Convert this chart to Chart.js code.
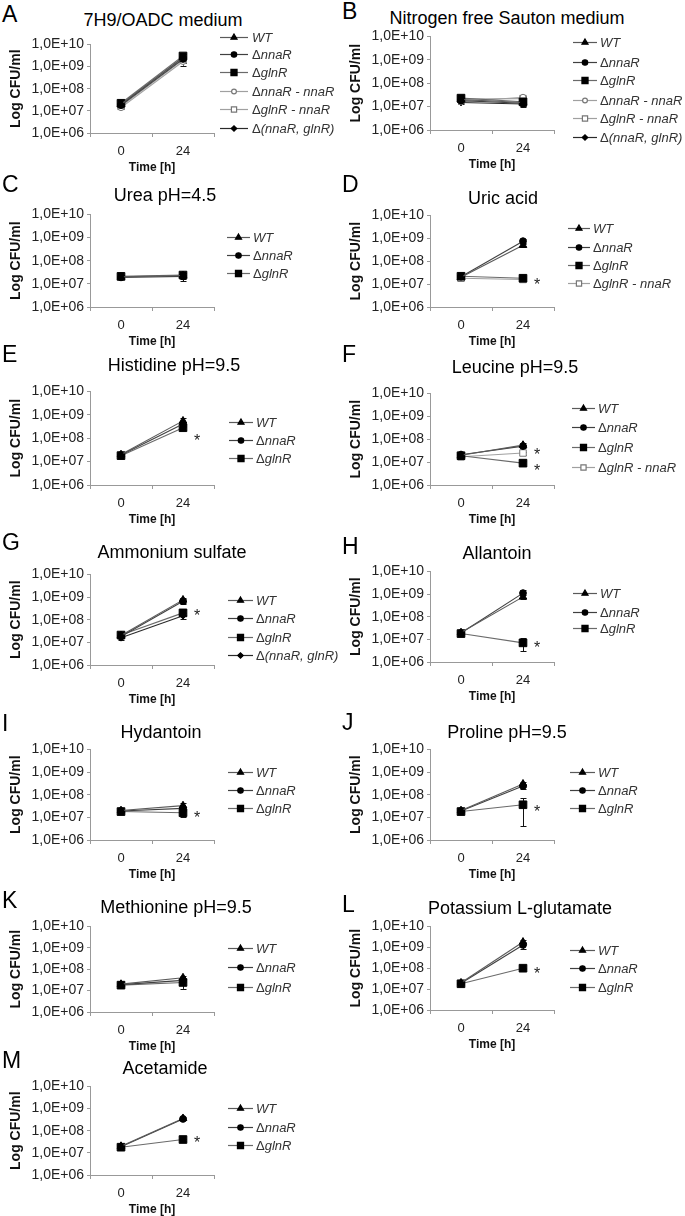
<!DOCTYPE html>
<html>
<head>
<meta charset="utf-8">
<script src="https://cdn.jsdelivr.net/npm/chart.js@4.4.0/dist/chart.umd.min.js"></script>
<style>
  html, body { margin: 0; padding: 0; background: #fff; }
  body { width: 685px; height: 1216px; position: relative; overflow: hidden; font-family: "Liberation Sans", Arial, sans-serif; }
  canvas { position: absolute; }
  .letter { position: absolute; font-size: 23px; color: #000; line-height: 1; transform: translateY(-50%); }
  .ptitle { position: absolute; font-size: 18px; color: #000; white-space: nowrap; line-height: 1; transform: translate(-50%, -50%); }
</style>
</head>
<body>
<script>
// ---------- DATA ----------
const timeLabels = ['0', '24'];
const yTickValues = [1e6, 1e7, 1e8, 1e9, 1e10];
const seriesNames = ['WT', 'ΔnnaR', 'ΔglnR', 'ΔnnaR - nnaR', 'ΔglnR - nnaR', 'Δ(nnaR, glnR)'];
const panelLetters = ['A','B','C','D','E','F','G','H','I','J','K','L','M'];
const panelTitles = ['7H9/OADC medium','Nitrogen free Sauton medium','Urea pH=4.5','Uric acid','Histidine pH=9.5','Leucine pH=9.5','Ammonium sulfate','Allantoin','Hydantoin','Proline pH=9.5','Methionine pH=9.5','Potassium L-glutamate','Acetamide'];

const aSeries = [0,1,2,3,4,5];
const aValues = [[2.0e7,2.5e9],[1.8e7,2.2e9],[2.2e7,3.0e9],[1.4e7,1.7e9],[1.6e7,2.0e9],[1.9e7,2.6e9]];
const aErrors = [[3e6,6e8],[3e6,5e8],[4e6,8e8],[2e6,6e8],[2e6,5e8],[3e6,1.1e9]];
const aStars = [];

const bSeries = [0,1,2,3,4,5];
const bValues = [[2.0e7,1.5e7],[1.8e7,1.4e7],[2.3e7,1.6e7],[1.6e7,2.5e7],[2.1e7,2.2e7],[1.5e7,1.3e7]];
const bErrors = [[3e6,4e6],[3e6,3e6],[4e6,4e6],[2e6,3e6],[3e6,3e6],[2e6,3e6]];
const bStars = [];

const cSeries = [0,1,2];
const cValues = [[2.0e7,2.3e7],[1.9e7,2.1e7],[2.1e7,2.4e7]];
const cErrors = [[3e6,6e6],[3e6,8e6],[4e6,5e6]];
const cStars = [];

const dSeries = [0,1,2,4];
const dValues = [[2.0e7,5.0e8],[2.1e7,7.5e8],[2.2e7,1.8e7],[1.8e7,1.6e7]];
const dErrors = [[3e6,1e8],[3e6,2e8],[4e6,3e6],[3e6,3e6]];
const dStars = [1.5e7];

const eSeries = [0,1,2];
const eValues = [[2.0e7,5.5e8],[1.9e7,4.0e8],[1.8e7,2.8e8]];
const eErrors = [[3e6,1.5e8],[3e6,1e8],[3e6,6e7]];
const eStars = [1.3e8];

const fSeries = [0,1,2,4];
const fValues = [[2.0e7,5.5e7],[2.1e7,5.0e7],[1.9e7,9.0e6],[1.7e7,2.5e7]];
const fErrors = [[3e6,1e7],[3e6,8e6],[3e6,2e6],[3e6,4e6]];
const fStars = [3.5e7, 6.8e6];

const gSeries = [0,1,2,5];
const gValues = [[2.0e7,7.5e8],[1.8e7,6.5e8],[2.1e7,2.0e8],[1.6e7,1.5e8]];
const gErrors = [[3e6,2e8],[3e6,1.5e8],[4e6,6e7],[3e6,4e7]];
const gStars = [2.5e8];

const hSeries = [0,1,2];
const hValues = [[2.0e7,7.5e8],[1.9e7,1.1e9],[1.8e7,7.0e6]];
const hErrors = [[3e6,1.5e8],[3e6,4e8],[3e6,4e6]];
const hStars = [6.7e6];

const iSeries = [0,1,2];
const iValues = [[2.0e7,3.3e7],[1.9e7,2.5e7],[1.8e7,1.6e7]];
const iErrors = [[3e6,1.2e7],[3e6,5e6],[3e6,6e6]];
const iStars = [1.5e7];

const jSeries = [0,1,2];
const jValues = [[2.0e7,3.0e8],[1.9e7,2.4e8],[1.8e7,3.6e7]];
const jErrors = [[3e6,8e7],[3e6,6e7],[3e6,3.2e7]];
const jStars = [2.9e7];

const kSeries = [0,1,2];
const kValues = [[2.0e7,4.0e7],[1.9e7,3.0e7],[1.8e7,2.4e7]];
const kErrors = [[3e6,8e6],[3e6,6e6],[3e6,1.2e7]];
const kStars = [];

const lSeries = [0,1,2];
const lValues = [[2.0e7,1.8e9],[1.9e7,1.3e9],[1.8e7,1.0e8]];
const lErrors = [[3e6,5e8],[3e6,5e8],[3e6,8e6]];
const lStars = [9e7];

const mSeries = [0,1,2];
const mValues = [[2.0e7,3.6e8],[1.9e7,3.4e8],[1.8e7,4.0e7]];
const mErrors = [[3e6,5e7],[3e6,4e7],[3e6,4e6]];
const mStars = [4.5e7];

const panelSeries = [aSeries,bSeries,cSeries,dSeries,eSeries,fSeries,gSeries,hSeries,iSeries,jSeries,kSeries,lSeries,mSeries];
const panelValues = [aValues,bValues,cValues,dValues,eValues,fValues,gValues,hValues,iValues,jValues,kValues,lValues,mValues];
const panelErrors = [aErrors,bErrors,cErrors,dErrors,eErrors,fErrors,gErrors,hErrors,iErrors,jErrors,kErrors,lErrors,mErrors];
const panelStars = [aStars,bStars,cStars,dStars,eStars,fStars,gStars,hStars,iStars,jStars,kStars,lStars,mStars];

// ---------- STYLE / LAYOUT ----------
const FONT = '"Liberation Sans", Arial, sans-serif';
const seriesStyles = [
  {pointStyle:'triangle', radius:4.4, line:'#5a5a5a', fill:'#000', border:'#000'},
  {pointStyle:'circle',   radius:3.4, line:'#404040', fill:'#000', border:'#000'},
  {pointStyle:'rect',     radius:5.4, line:'#6a6a6a', fill:'#000', border:'#000'},
  {pointStyle:'circle',   radius:3.0, line:'#a0a0a0', fill:'#fff', border:'#777'},
  {pointStyle:'rect',     radius:4.6, line:'#a0a0a0', fill:'#fff', border:'#777'},
  {pointStyle:'rectRot',  radius:3.4, line:'#2a2a2a', fill:'#000', border:'#000'}
];
// col, plot top (1E+10), plot bottom (1E+06), letter y, title y, title center x, legend rows y, legend [lineStart, lineEnd, textStart]
const layout = [
  {col:0, top:43,  bot:133,  letterY:14,   titleY:20,   titleX:163, legY:[37,54,72,91,109,128],   legX:[220,248,252]},
  {col:1, top:35,  bot:130,  letterY:11,   titleY:18,   titleX:507, legY:[42,62,80,100,118,137],  legX:[573,597,600]},
  {col:0, top:213, bot:307,  letterY:184,  titleY:195,  titleX:165, legY:[237,255,273],           legX:[227,250,253]},
  {col:1, top:214, bot:307,  letterY:184,  titleY:198,  titleX:503, legY:[228,247,265,283],       legX:[568,590,593]},
  {col:0, top:390, bot:485,  letterY:354,  titleY:365,  titleX:174, legY:[422,440,458],           legX:[229,253,256]},
  {col:1, top:392, bot:485,  letterY:354,  titleY:367,  titleX:515, legY:[408,427,447,467],       legX:[572,595,598]},
  {col:0, top:573, bot:665,  letterY:542,  titleY:552,  titleX:172, legY:[600,618,637,655],       legX:[228,253,256]},
  {col:1, top:570, bot:662,  letterY:546,  titleY:553,  titleX:497, legY:[593,612,628],           legX:[573,597,600]},
  {col:0, top:748, bot:840,  letterY:723,  titleY:732,  titleX:161, legY:[772,790,808],           legX:[228,253,256]},
  {col:1, top:748, bot:840,  letterY:722,  titleY:732,  titleX:507, legY:[772,790,808],           legX:[570,595,598]},
  {col:0, top:925, bot:1012, letterY:900,  titleY:907,  titleX:176, legY:[948,967,987],           legX:[228,253,256]},
  {col:1, top:925, bot:1010, letterY:904,  titleY:908,  titleX:520, legY:[950,968,987],           legX:[570,595,598]},
  {col:0, top:1085,bot:1175, letterY:1060, titleY:1068, titleX:165, legY:[1108,1127,1145],        legX:[228,253,256]}
];
const COL_X = [0, 340];
const CANVAS_W = 345;
const PLOT_LEFT = 90;   // relative to canvas
const PLOT_RIGHT = 214;
const PAD_TOP = 10;
const XAXIS_H = 45;

function fmtTick(v) {
  const e = Math.round(Math.log10(v));
  return '1,0E+' + String(e).padStart(2, '0');
}

// error bars + significance stars plugin
const errorBarPlugin = {
  id: 'errorBars',
  beforeDatasetsDraw(chart, args, opts) {
    const ctx = chart.ctx;
    const y = chart.scales.y, x = chart.scales.x;
    ctx.save();
    ctx.strokeStyle = '#111';
    ctx.lineWidth = 1;
    opts.errors.forEach((errs, di) => {
      const vals = chart.data.datasets[di].data;
      errs.forEach((e, i) => {
        const v = vals[i];
        const px = x.getPixelForValue(i);
        const lo = Math.max(v - e, 1e6);
        const yHi = y.getPixelForValue(v + e), yLo = y.getPixelForValue(lo);
        ctx.beginPath();
        ctx.moveTo(px + 0.5, yHi); ctx.lineTo(px + 0.5, yLo);
        ctx.moveTo(px - 2.5, Math.round(yHi) + 0.5); ctx.lineTo(px + 3.5, Math.round(yHi) + 0.5);
        ctx.moveTo(px - 2.5, Math.round(yLo) + 0.5); ctx.lineTo(px + 3.5, Math.round(yLo) + 0.5);
        ctx.stroke();
      });
    });
    ctx.restore();
  },
  afterDatasetsDraw(chart, args, opts) {
    const ctx = chart.ctx;
    const y = chart.scales.y, x = chart.scales.x;
    ctx.save();
    ctx.fillStyle = '#222';
    ctx.font = '16px ' + FONT;
    ctx.textAlign = 'center';
    ctx.textBaseline = 'alphabetic';
    opts.stars.forEach(v => {
      const px = x.getPixelForValue(1) + 14;
      const py = y.getPixelForValue(v);
      ctx.fillText('*', px, py + 10);
    });
    ctx.restore();
  }
};

// custom legend plugin (line + marker + mixed-style text)
const legendPlugin = {
  id: 'sideLegend',
  afterDraw(chart, args, opts) {
    const ctx = chart.ctx;
    ctx.save();
    chart.data.datasets.forEach((ds, i) => {
      const yy = opts.rows[i];
      const x0 = opts.x[0], x1 = opts.x[1], tx = opts.x[2];
      ctx.strokeStyle = ds.borderColor;
      ctx.lineWidth = 1.2;
      ctx.beginPath();
      ctx.moveTo(x0, yy + 0.5); ctx.lineTo(x1, yy + 0.5);
      ctx.stroke();
      ctx.fillStyle = ds.pointBackgroundColor;
      ctx.strokeStyle = ds.pointBorderColor;
      Chart.helpers.drawPoint(ctx, {pointStyle: ds.pointStyle, radius: ds.pointRadius * 0.8, rotation: 0, borderWidth: 1}, (x0 + x1) / 2, yy + 0.5);
      ctx.fillStyle = '#333';
      ctx.textBaseline = 'middle';
      ctx.textAlign = 'left';
      let label = ds.label, cx = tx;
      if (label.startsWith('Δ')) {
        ctx.font = '13px ' + FONT;
        ctx.fillText('Δ', cx, yy + 1);
        cx += ctx.measureText('Δ').width;
        label = label.slice(1);
      }
      ctx.font = 'italic 13px ' + FONT;
      ctx.fillText(label, cx, yy + 1);
    });
    ctx.restore();
  }
};

panelLetters.forEach((letter, p) => {
  const L = layout[p];
  const left = COL_X[L.col];
  const canvasTop = L.top - PAD_TOP;
  const h = (L.bot - L.top) + PAD_TOP + XAXIS_H;

  const lt = document.createElement('div');
  lt.className = 'letter'; lt.textContent = letter;
  lt.style.left = (left + 2) + 'px'; lt.style.top = L.letterY + 'px';
  document.body.appendChild(lt);

  const tt = document.createElement('div');
  tt.className = 'ptitle'; tt.textContent = panelTitles[p];
  tt.style.left = L.titleX + 'px'; tt.style.top = L.titleY + 'px';
  document.body.appendChild(tt);

  const cv = document.createElement('canvas');
  cv.width = CANVAS_W; cv.height = h;
  cv.style.left = left + 'px'; cv.style.top = canvasTop + 'px';
  cv.style.width = CANVAS_W + 'px'; cv.style.height = h + 'px';
  document.body.appendChild(cv);

  const datasets = panelSeries[p].map((si, k) => {
    const st = seriesStyles[si];
    return {
      label: seriesNames[si],
      data: panelValues[p][k],
      borderColor: st.line,
      borderWidth: 1.1,
      pointStyle: st.pointStyle,
      pointRadius: st.radius,
      pointBackgroundColor: st.fill,
      pointBorderColor: st.border,
      pointBorderWidth: 1,
      fill: false,
      tension: 0
    };
  });

  new Chart(cv, {
    type: 'line',
    data: { labels: timeLabels, datasets },
    options: {
      responsive: false,
      animation: false,
      devicePixelRatio: 1,
      events: [],
      layout: { padding: { top: PAD_TOP, left: 0, right: CANVAS_W - PLOT_RIGHT, bottom: 0 } },
      plugins: {
        legend: { display: false },
        tooltip: { enabled: false },
        title: { display: false },
        errorBars: { errors: panelErrors[p], stars: panelStars[p] },
        sideLegend: { rows: L.legY.map(v => v - canvasTop), x: L.legX.map(v => v - left) }
      },
      scales: {
        x: {
          type: 'category',
          offset: true,
          grid: { offset: true, drawOnChartArea: false, drawTicks: true, tickLength: 4, color: '#999' },
          border: { color: '#999', width: 1 },
          ticks: { color: '#222', font: { family: FONT, size: 13 }, padding: 7, maxRotation: 0 },
          title: { display: true, text: 'Time [h]', color: '#111', font: { family: FONT, size: 12, weight: 'bold' }, padding: { top: 0, bottom: 3 } },
          afterFit(s) { s.height = XAXIS_H; }
        },
        y: {
          type: 'logarithmic',
          min: 1e6, max: 1e10,
          afterBuildTicks(s) { s.ticks = yTickValues.map(v => ({ value: v })); },
          grid: { drawOnChartArea: false, drawTicks: true, tickLength: 3, color: '#999' },
          border: { color: '#999', width: 1 },
          ticks: { color: '#222', font: { family: FONT, size: 14 }, padding: 3, autoSkip: false, callback: (v) => fmtTick(v) },
          title: { display: true, text: 'Log CFU/ml', color: '#111', font: { family: FONT, size: 14, weight: 'bold' }, padding: { top: 8, bottom: 0 } },
          afterFit(s) { s.width = PLOT_LEFT; }
        }
      }
    },
    plugins: [errorBarPlugin, legendPlugin]
  });
});
</script>
</body>
</html>
